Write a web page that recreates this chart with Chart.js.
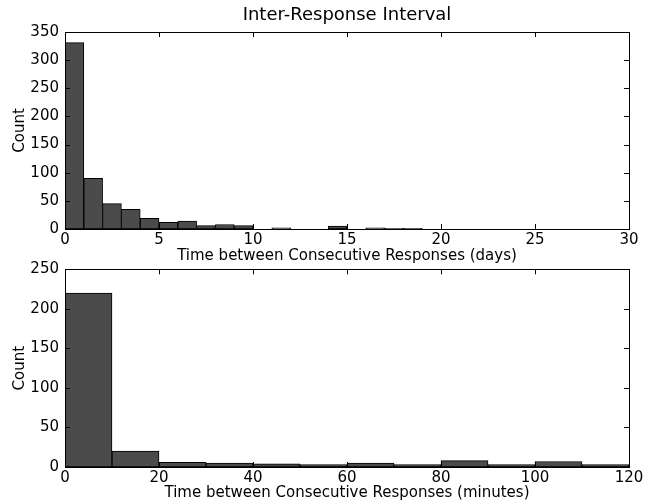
<!DOCTYPE html>
<html>
<head>
<meta charset="utf-8">
<script src="https://cdn.jsdelivr.net/npm/chart.js@4.4.1/dist/chart.umd.min.js"></script>
<style>
  html, body { margin: 0; padding: 0; background: #fff; }
  #wrap { position: relative; width: 652px; height: 504px; overflow: hidden; }
  canvas { position: absolute; left: 0; }
  #c1 { top: 0; }
  #c2 { top: 250px; }
</style>
</head>
<body>
<div id="wrap">
  <canvas id="c1" width="652" height="265"></canvas>
  <canvas id="c2" width="652" height="254"></canvas>
</div>
<script>
// ---- data ----
const chartTitle = 'Inter-Response Interval';
const yLabel = 'Count';

const dayBinStart = 0;
const dayBinWidth = 1;
const dayCounts = [331, 90, 45, 35, 19, 12, 14, 6, 8, 6, 0, 2, 0, 0, 5, 0, 2, 1, 1, 0, 0, 0, 0, 0, 0, 0, 0, 0, 0, 0];
const dayXLabel = 'Time between Consecutive Responses (days)';
const dayXTicks = [0, 5, 10, 15, 20, 25, 30];
const dayYTicks = [0, 50, 100, 150, 200, 250, 300, 350];

const minBinStart = 0;
const minBinWidth = 10;
const minuteCounts = [220, 20, 6, 5, 4, 3, 5, 3, 8, 3, 7, 3];
const minXLabel = 'Time between Consecutive Responses (minutes)';
const minXTicks = [0, 20, 40, 60, 80, 100, 120];
const minYTicks = [0, 50, 100, 150, 200, 250];

// ---- styling ----
const FONT = 'DejaVu Sans';
Chart.defaults.color = '#000';
Chart.defaults.font.family = FONT;

const framePlugin = {
  id: 'frame',
  afterDatasetsDraw(chart) {
    const ctx = chart.ctx;
    const a = chart.chartArea;
    const xs = chart.scales.x, ys = chart.scales.y;
    const L = 5;
    ctx.save();
    ctx.strokeStyle = '#000';
    ctx.lineWidth = 1;
    ctx.beginPath();
    xs.ticks.forEach(t => {
      const px = Math.round(xs.getPixelForValue(t.value)) + 0.5;
      ctx.moveTo(px, a.bottom); ctx.lineTo(px, a.bottom - L);
      ctx.moveTo(px, a.top); ctx.lineTo(px, a.top + L);
    });
    ys.ticks.forEach(t => {
      const py = Math.round(ys.getPixelForValue(t.value)) + 0.5;
      ctx.moveTo(a.left, py); ctx.lineTo(a.left + L, py);
      ctx.moveTo(a.right, py); ctx.lineTo(a.right - L, py);
    });
    ctx.stroke();
    ctx.strokeRect(Math.round(a.left) + 0.5, Math.round(a.top) + 0.5,
                   Math.round(a.right - a.left), Math.round(a.bottom - a.top));
    const t = chart.options.plugins.frame && chart.options.plugins.frame.title;
    if (t) {
      ctx.fillStyle = '#000';
      ctx.font = '18px "' + FONT + '"';
      ctx.textAlign = 'center';
      ctx.textBaseline = 'middle';
      ctx.fillText(t, (a.left + a.right) / 2, 15.5);
    }
    ctx.restore();
  }
};

function makeHist(canvasId, counts, binStart, binWidth, xTicks, yTicks, xLabel, opts) {
  const pts = counts.map((c, i) => ({ x: binStart + binWidth * (i + 0.5), y: c }));
  const xMin = xTicks[0], xMax = xTicks[xTicks.length - 1];
  const xStep = xTicks[1] - xTicks[0];
  const yMax = yTicks[yTicks.length - 1];
  const yStep = yTicks[1] - yTicks[0];
  return new Chart(document.getElementById(canvasId), {
    type: 'bar',
    data: {
      datasets: [{
        data: pts,
        backgroundColor: '#4b4b4b',
        borderColor: '#000',
        borderWidth: 1,
        borderSkipped: false,
        barPercentage: 1,
        categoryPercentage: 1
      }]
    },
    options: {
      responsive: false,
      animation: false,
      layout: { padding: { top: opts.padTop, right: 23, left: 0, bottom: 0 } },
      plugins: {
        legend: { display: false },
        tooltip: { enabled: false },
        title: { display: false },
        frame: { title: opts.title }
      },
      scales: {
        x: {
          type: 'linear',
          offset: false,
          min: xMin, max: xMax,
          grid: { display: false, drawTicks: false },
          border: { display: false },
          ticks: { stepSize: xStep, padding: 2, font: { size: 15 }, color: '#000', maxRotation: 0 },
          title: { display: true, text: xLabel, font: { size: 15 }, color: '#000',
                   padding: { top: 0, bottom: opts.xTitlePadBottom } },
          afterFit(s) { s.height = opts.xAxisHeight; }
        },
        y: {
          min: 0, max: yMax,
          grid: { display: false, drawTicks: false },
          border: { display: false },
          ticks: { stepSize: yStep, padding: 6, font: { size: 15 }, color: '#000' },
          title: { display: true, text: yLabel, font: { size: 15 }, color: '#000',
                   padding: { top: 11, bottom: 0 } },
          afterFit(s) { s.width = 65; }
        }
      }
    },
    plugins: [framePlugin]
  });
}

makeHist('c1', dayCounts, dayBinStart, dayBinWidth, dayXTicks, dayYTicks, dayXLabel,
  { title: chartTitle, padTop: 32, xAxisHeight: 36, xTitlePadBottom: 0 });
makeHist('c2', minuteCounts, minBinStart, minBinWidth, minXTicks, minYTicks, minXLabel,
  { title: null, padTop: 19.3, xAxisHeight: 37, xTitlePadBottom: 2 });
</script>
</body>
</html>
